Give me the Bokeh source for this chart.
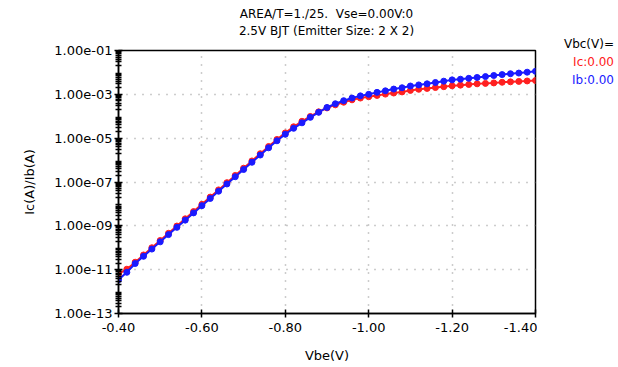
from bokeh.plotting import figure
from bokeh.layouts import row, column
from bokeh.models import (FixedTicker, CustomJSTickFormatter, NumeralTickFormatter,
                          Range1d, Div, ColumnDataSource)
from bokeh.embed import file_html
from bokeh.resources import INLINE

# ---- data ----
vbe = [-0.40, -0.42, -0.44, -0.46, -0.48, -0.50, -0.52, -0.54, -0.56, -0.58,
       -0.60, -0.62, -0.64, -0.66, -0.68, -0.70, -0.72, -0.74, -0.76, -0.78,
       -0.80, -0.82, -0.84, -0.86, -0.88, -0.90, -0.92, -0.94, -0.96, -0.98,
       -1.00, -1.02, -1.04, -1.06, -1.08, -1.10, -1.12, -1.14, -1.16, -1.18,
       -1.20, -1.22, -1.24, -1.26, -1.28, -1.30, -1.32, -1.34, -1.36, -1.38,
       -1.40]

ic_log10 = [-11.19, -10.98, -10.66, -10.33, -10.00, -9.67, -9.34, -9.01, -8.68, -8.35,
            -8.02, -7.69, -7.36, -7.03, -6.70, -6.37, -6.04, -5.71, -5.38, -5.06,
            -4.76, -4.48, -4.23, -4.01, -3.80, -3.62, -3.48, -3.36, -3.25, -3.17,
            -3.11, -3.05, -2.99, -2.94, -2.89, -2.82, -2.77, -2.73, -2.69, -2.65,
            -2.61, -2.58, -2.55, -2.52, -2.50, -2.48, -2.45, -2.43, -2.41, -2.39,
            -2.37]

ib_log10 = [-11.46, -11.12, -10.72, -10.39, -10.06, -9.73, -9.40, -9.07, -8.74, -8.41,
            -8.08, -7.75, -7.42, -7.09, -6.76, -6.43, -6.10, -5.77, -5.44, -5.12,
            -4.82, -4.55, -4.30, -4.05, -3.82, -3.60, -3.43, -3.29, -3.17, -3.07,
            -3.00, -2.91, -2.84, -2.76, -2.70, -2.62, -2.57, -2.52, -2.46, -2.40,
            -2.34, -2.31, -2.27, -2.23, -2.19, -2.14, -2.10, -2.06, -2.03, -1.99,
            -1.95]

x_ticks = [-0.40, -0.60, -0.80, -1.00, -1.20, -1.40]
y_ticks = [1e-13, 1e-11, 1e-09, 1e-07, 1e-05, 1e-03, 1e-01]
y_minor = [m * 10.0 ** k for k in range(-13, -1) for m in range(2, 10)]

title_lines = ["AREA/T=1./25.&nbsp; Vse=0.00V:0", "2.5V BJT (Emitter Size: 2 X 2)"]
legend_title = "Vbc(V)="
legend_items = ["Ic:0.00", "Ib:0.00"]
series_colors = ["#ff2020", "#1a1aff"]

ic = [10.0 ** v for v in ic_log10]
ib = [10.0 ** v for v in ib_log10]
src = ColumnDataSource(dict(x=vbe, ic=ic, ib=ib))

FONT = "DejaVu Sans"

p = figure(width=537, height=327, x_range=Range1d(-0.40, -1.40),
           y_range=Range1d(1e-13, 1e-1), y_axis_type="log",
           output_backend="svg", toolbar_location=None, title=None,
           min_border_left=118, min_border_right=2,
           min_border_top=10, min_border_bottom=54, margin=0)

p.outline_line_color = "black"
p.outline_line_width = 1.5
p.background_fill_color = "white"
p.border_fill_color = "white"

# axes
xa = p.xaxis[0]
xa.ticker = FixedTicker(ticks=x_ticks)
xa.formatter = NumeralTickFormatter(format="0.00")
xa.axis_label = "Vbe(V)"
ya = p.yaxis[0]
ya.ticker = FixedTicker(ticks=y_ticks, minor_ticks=y_minor)
ya.formatter = CustomJSTickFormatter(code="""
    var s = tick.toExponential(2);
    return s.replace(/e([+-])(\\d)$/, 'e$10$2');
""")
ya.axis_label = "Ic(A)/Ib(A)"

for ax in (xa, ya):
    ax.axis_line_color = "black"
    ax.axis_line_width = 1.5
    ax.major_tick_line_color = "black"
    ax.major_tick_line_width = 1.5
    ax.major_tick_in = 4
    ax.major_tick_out = 4
    ax.major_label_text_font = FONT
    ax.major_label_text_font_size = "13px"
    ax.major_label_text_color = "black"
    ax.axis_label_text_font = FONT
    ax.axis_label_text_font_size = "13px"
    ax.axis_label_text_font_style = "normal"
    ax.axis_label_text_color = "black"

xa.minor_tick_line_color = None
xa.major_label_standoff = 5
xa.axis_label_standoff = 13
ya.minor_tick_line_color = "black"
ya.minor_tick_line_width = 1.5
ya.minor_tick_in = 3
ya.minor_tick_out = 3
ya.major_label_standoff = 2
ya.axis_label_standoff = 14

# grids
p.xgrid[0].ticker = FixedTicker(ticks=x_ticks[1:-1])
p.ygrid[0].ticker = FixedTicker(ticks=y_ticks[1:-1])
for g in (p.xgrid[0], p.ygrid[0]):
    g.grid_line_color = "#9a9a9a"
    g.grid_line_dash = "1 7"
    g.grid_line_width = 1.5

# series
p.line("x", "ic", source=src, line_color=series_colors[0], line_width=2)
p.scatter("x", "ic", source=src, size=6, marker="circle",
          fill_color=series_colors[0], line_color=series_colors[0])
p.line("x", "ib", source=src, line_color=series_colors[1], line_width=2)
p.scatter("x", "ib", source=src, size=6, marker="circle",
          fill_color=series_colors[1], line_color=series_colors[1])

# two-line title above the plot frame
title_html = "".join(f"<div>{t}</div>" for t in title_lines)
title_div = Div(text=title_html, width=537, height=40, margin=0,
                styles={"font-family": FONT, "font-size": "12px",
                        "line-height": "17px", "text-align": "center",
                        "color": "black", "padding-top": "6px",
                        "padding-left": "118px", "padding-right": "2px",
                        "box-sizing": "border-box", "width": "537px",
                        "background-color": "white"})

# legend text to the right of the plot
legend_html = (
    f'<div style="color:black">{legend_title}</div>'
    f'<div style="color:{series_colors[0]}">{legend_items[0]}</div>'
    f'<div style="color:{series_colors[1]}">{legend_items[1]}</div>'
)
legend_div = Div(text=legend_html, width=81, height=367, margin=0,
                 styles={"font-family": FONT, "font-size": "12px",
                         "line-height": "18px", "text-align": "right",
                         "padding-top": "35px", "padding-right": "4px",
                         "box-sizing": "border-box", "width": "81px",
                         "background-color": "white"})

layout = row(column(title_div, p, spacing=0), legend_div, spacing=0)
open("out.html", "w").write(file_html(layout, INLINE))
